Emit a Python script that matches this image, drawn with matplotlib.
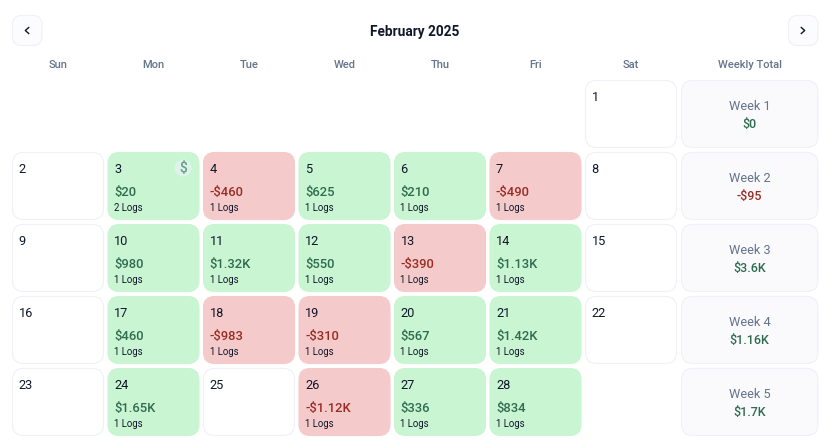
import matplotlib
matplotlib.use("Agg")
import matplotlib.pyplot as plt
from matplotlib.patches import FancyBboxPatch, Circle

plt.rcParams['font.family'] = ['Roboto', 'DejaVu Sans']

TITLE = "February 2025"
WEEKDAYS = ["Sun", "Mon", "Tue", "Wed", "Thu", "Fri", "Sat"]
TOTAL_HEADER = "Weekly Total"

# day 1 is on the first Saturday
DAYS = list(range(1, 29))
AMOUNTS = [None, None, 20, -460, 625, 210, -490, None, None, 980, 1320, 550, -390, 1130,
           None, None, 460, -983, -310, 567, 1420, None, None, 1650, None, -1120, 336, 834]
AMOUNT_LABELS = [None, None, "$20", "-$460", "$625", "$210", "-$490", None, None, "$980",
                 "$1.32K", "$550", "-$390", "$1.13K", None, None, "$460", "-$983", "-$310",
                 "$567", "$1.42K", None, None, "$1.65K", None, "-$1.12K", "$336", "$834"]
LOGS = [None, None, 2, 1, 1, 1, 1, None, None, 1, 1, 1, 1, 1,
        None, None, 1, 1, 1, 1, 1, None, None, 1, None, 1, 1, 1]
WEEK_NAMES = ["Week 1", "Week 2", "Week 3", "Week 4", "Week 5"]
WEEK_TOTALS = [0, -95, 3600, 1160, 1700]
WEEK_LABELS = ["$0", "-$95", "$3.6K", "$1.16K", "$1.7K"]
MARKED_DAY = 3

COL_LEFT = [12.5, 108, 203.5, 299, 394.5, 490, 585.5]
COL_W = 91
TOTAL_LEFT = 681.5
TOTAL_W = 136.5
ROW_TOP = [80.5, 152.5, 224.5, 296.5, 368.5]
ROW_H = 67

INK = "#0f172a"
MUTED = "#64748b"
BORDER = "#eff1f7"
GREEN_BG = "#c9f5d2"
RED_BG = "#f5caca"
GREEN_TEXT = "#2f6b4f"
RED_TEXT = "#9b2c22"


def box(ax, x, y, w, h, face, edge=BORDER, radius=11):
    ax.add_patch(FancyBboxPatch((x + radius, y + radius), w - 2 * radius, h - 2 * radius,
                                boxstyle=f"round,pad={radius},rounding_size={radius}",
                                facecolor=face, edgecolor=edge, linewidth=0.8))


def arrow(ax, x, y, d):
    ax.plot([x - d * 1.7, x + d * 1.7, x - d * 1.7], [y - 3, y, y + 3],
            color=INK, linewidth=1)


def main():
    fig = plt.figure(figsize=(8.25, 4.45), dpi=100)
    ax = fig.add_axes([0, 0, 1, 1])
    ax.set_xlim(0, 825)
    ax.set_ylim(445, 0)
    ax.axis("off")

    # Header
    ax.text(415, 36, TITLE, ha="center", va="baseline", fontsize=9.8, fontweight="bold", color=INK)
    box(ax, 12.5, 15.5, 29.5, 30, "#fcfcfe", radius=9)
    box(ax, 788.5, 15.5, 29.5, 30, "#fcfcfe", radius=9)
    arrow(ax, 27, 30.5, -1)
    arrow(ax, 803, 30.5, 1)

    for col, name in enumerate(WEEKDAYS):
        ax.text(COL_LEFT[col] + COL_W / 2, 68, name, ha="center", va="baseline",
                fontsize=8, fontweight="medium", color=MUTED)
    ax.text(TOTAL_LEFT + TOTAL_W / 2, 68, TOTAL_HEADER, ha="center", va="baseline",
            fontsize=8, fontweight="medium", color=MUTED)

    # Day cells
    for i, day in enumerate(DAYS):
        pos = day + 5
        row, col = pos // 7, pos % 7
        x, y = COL_LEFT[col], ROW_TOP[row]
        value = AMOUNTS[i]
        if value is None:
            box(ax, x, y, COL_W, ROW_H, "white")
        else:
            box(ax, x, y, COL_W, ROW_H, GREEN_BG if value > 0 else RED_BG,
                edge=GREEN_BG if value > 0 else RED_BG)
            ax.text(x + 6, y + 43.5, AMOUNT_LABELS[i], ha="left", va="baseline", fontsize=9.4,
                    fontweight="medium", color=GREEN_TEXT if value > 0 else RED_TEXT)
            ax.text(x + 6, y + 58.5, f"{LOGS[i]} Logs", ha="left", va="baseline",
                    fontsize=6.9, color=INK)
        ax.text(x + 6, y + 20.5, str(day), ha="left", va="baseline", fontsize=9.2, color=INK)
        if day == MARKED_DAY:
            ax.add_patch(Circle((x + 75, y + 15.5), 8.5, facecolor="#dff3ea", edgecolor="none"))
            ax.text(x + 75, y + 19.5, "$", ha="center", va="baseline", fontsize=10,
                    fontweight="medium", color="#5f9f85")

    # Weekly totals
    for row, name in enumerate(WEEK_NAMES):
        y = ROW_TOP[row]
        box(ax, TOTAL_LEFT, y, TOTAL_W, ROW_H, "#fafafd")
        ax.text(TOTAL_LEFT + TOTAL_W / 2, y + 29.5, name, ha="center", va="baseline",
                fontsize=9.2, color=MUTED)
        ax.text(TOTAL_LEFT + TOTAL_W / 2, y + 47.5, WEEK_LABELS[row], ha="center", va="baseline",
                fontsize=9, fontweight="medium",
                color=RED_TEXT if WEEK_TOTALS[row] < 0 else GREEN_TEXT)

    fig.savefig("out.png", dpi=100)


if __name__ == '__main__':
    main()
